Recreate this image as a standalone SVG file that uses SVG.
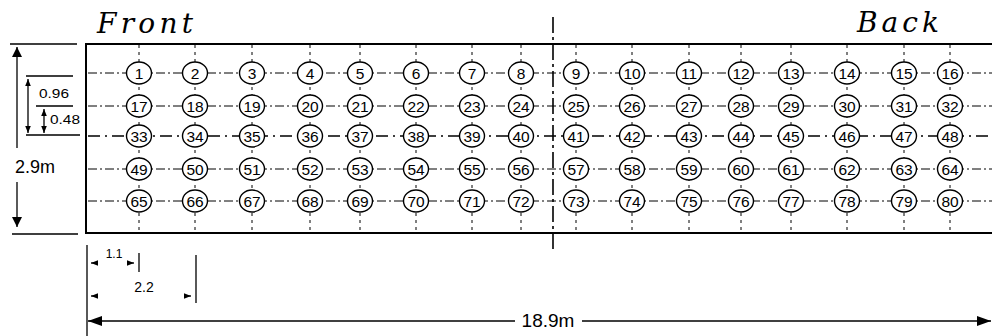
<svg xmlns="http://www.w3.org/2000/svg" width="992" height="336" viewBox="0 0 992 336">
<style>
.n ellipse{fill:#fff;stroke:#000;stroke-width:1.4}
.n text{font-family:"Liberation Sans",Arial,sans-serif;font-size:15.5px;text-anchor:middle;fill:#000}
.h{stroke:#000;stroke-width:1;stroke-dasharray:9 3 2 3;fill:none}
.h3{stroke:#000;stroke-width:1.6;stroke-dasharray:12 5 2 5;fill:none}
.v{stroke:#000;stroke-width:1;stroke-dasharray:3 4;fill:none}
.s{stroke:#000;stroke-width:1.3;fill:none}
.b{stroke:#000;stroke-width:2;fill:none}
.lbl{font-family:"Liberation Sans",Arial,sans-serif;fill:#000}
.ttl{font-family:"DejaVu Serif","Liberation Serif",serif;font-style:italic;font-size:28px;fill:#000}
</style>
<defs>
<marker id="ah" viewBox="0 0 10 10" refX="10" refY="5" markerWidth="10" markerHeight="10" markerUnits="userSpaceOnUse" orient="auto"><path d="M0,0 L10,5 L0,10 Z" fill="#000"/></marker>
<marker id="ahs" viewBox="0 0 10 10" refX="10" refY="5" markerWidth="7" markerHeight="7" markerUnits="userSpaceOnUse" orient="auto"><path d="M0,1 L10,5 L0,9 Z" fill="#000"/></marker>
<marker id="ahb" viewBox="0 0 14 10" refX="14" refY="5" markerWidth="14" markerHeight="11" markerUnits="userSpaceOnUse" orient="auto"><path d="M0,0 L14,5 L0,10 Z" fill="#000"/></marker>
</defs>

<text class="ttl" x="97" y="33" textLength="96" lengthAdjust="spacing">Front</text>
<text class="ttl" x="857" y="32" textLength="82" lengthAdjust="spacing">Back</text>

<g id="frame">
<path class="b" d="M86,44 H992 M86,233 H992 M86,43 V234"/>
<path class="s" d="M10,44 H77 M12,234 H78"/>
</g>

<g id="connectors">
<path class="h" d="M88,73 H992 M88,106 H992 M88,169 H992 M88,201 H992"/>
<path class="h3" d="M88,136 H992"/>
<path class="v" d="M139,45 V232 M195,45 V232 M252,45 V232 M310,45 V232 M360,45 V232 M416,45 V232 M472,45 V232 M521,45 V232 M576,45 V232 M632,45 V232 M689,45 V232 M741,45 V232 M791,45 V232 M847,45 V232 M904,45 V232 M950,45 V232"/>
<path d="M553,17 V250" stroke="#000" stroke-width="1.6" stroke-dasharray="16 4 3 4" fill="none"/>
</g>

<g id="dims">
<line class="s" x1="17" y1="148" x2="17" y2="47" marker-end="url(#ah)"/>
<line class="s" x1="17" y1="182" x2="17" y2="227" marker-end="url(#ah)"/>
<text class="lbl" x="35" y="173" font-size="18" text-anchor="middle">2.9m</text>
<path class="s" d="M26,76 H73 M36,106 H73 M26,135 H80"/>
<line class="s" x1="28" y1="105" x2="28" y2="79" marker-end="url(#ahs)"/>
<line class="s" x1="28" y1="105" x2="28" y2="133" marker-end="url(#ahs)"/>
<line class="s" x1="44" y1="120" x2="44" y2="109" marker-end="url(#ahs)"/>
<line class="s" x1="44" y1="120" x2="44" y2="133" marker-end="url(#ahs)"/>
<text class="lbl" x="39" y="98" font-size="13" textLength="30" lengthAdjust="spacingAndGlyphs">0.96</text>
<text class="lbl" x="50" y="124" font-size="13" textLength="30" lengthAdjust="spacingAndGlyphs">0.48</text>

<path class="s" d="M87,245 V336 M139,253 V272 M196,255 V303"/>
<line class="s" x1="97" y1="263" x2="91" y2="263" marker-end="url(#ahs)"/>
<line class="s" x1="128" y1="263" x2="134" y2="263" marker-end="url(#ahs)"/>
<text class="lbl" x="114" y="257.5" font-size="12" text-anchor="middle">1.1</text>
<line class="s" x1="98" y1="296" x2="91" y2="296" marker-end="url(#ahs)"/>
<line class="s" x1="184" y1="296" x2="191" y2="296" marker-end="url(#ahs)"/>
<text class="lbl" x="144" y="292" font-size="14" text-anchor="middle">2.2</text>
<line class="s" x1="515" y1="321" x2="88" y2="321" marker-end="url(#ahb)"/>
<line class="s" x1="582" y1="321" x2="991" y2="321" marker-end="url(#ahb)"/>
<text class="lbl" x="548" y="327" font-size="19" text-anchor="middle">18.9m</text>
</g>

<g id="n1" class="n"><ellipse cx="139" cy="73" rx="12.5" ry="11"/><text x="139" y="78.5">1</text></g>
<g id="n2" class="n"><ellipse cx="195" cy="73" rx="12.5" ry="11"/><text x="195" y="78.5">2</text></g>
<g id="n3" class="n"><ellipse cx="252" cy="73" rx="12.5" ry="11"/><text x="252" y="78.5">3</text></g>
<g id="n4" class="n"><ellipse cx="310" cy="73" rx="12.5" ry="11"/><text x="310" y="78.5">4</text></g>
<g id="n5" class="n"><ellipse cx="360" cy="73" rx="12.5" ry="11"/><text x="360" y="78.5">5</text></g>
<g id="n6" class="n"><ellipse cx="416" cy="73" rx="12.5" ry="11"/><text x="416" y="78.5">6</text></g>
<g id="n7" class="n"><ellipse cx="472" cy="73" rx="12.5" ry="11"/><text x="472" y="78.5">7</text></g>
<g id="n8" class="n"><ellipse cx="521" cy="73" rx="12.5" ry="11"/><text x="521" y="78.5">8</text></g>
<g id="n9" class="n"><ellipse cx="576" cy="73" rx="12.5" ry="11"/><text x="576" y="78.5">9</text></g>
<g id="n10" class="n"><ellipse cx="632" cy="73" rx="12.5" ry="11"/><text x="632" y="78.5">10</text></g>
<g id="n11" class="n"><ellipse cx="689" cy="73" rx="12.5" ry="11"/><text x="689" y="78.5">11</text></g>
<g id="n12" class="n"><ellipse cx="741" cy="73" rx="12.5" ry="11"/><text x="741" y="78.5">12</text></g>
<g id="n13" class="n"><ellipse cx="791" cy="73" rx="12.5" ry="11"/><text x="791" y="78.5">13</text></g>
<g id="n14" class="n"><ellipse cx="847" cy="73" rx="12.5" ry="11"/><text x="847" y="78.5">14</text></g>
<g id="n15" class="n"><ellipse cx="904" cy="73" rx="12.5" ry="11"/><text x="904" y="78.5">15</text></g>
<g id="n16" class="n"><ellipse cx="950" cy="73" rx="12.5" ry="11"/><text x="950" y="78.5">16</text></g>

<g id="n17" class="n"><ellipse cx="139" cy="106" rx="12.5" ry="11"/><text x="139" y="111.5">17</text></g>
<g id="n18" class="n"><ellipse cx="195" cy="106" rx="12.5" ry="11"/><text x="195" y="111.5">18</text></g>
<g id="n19" class="n"><ellipse cx="252" cy="106" rx="12.5" ry="11"/><text x="252" y="111.5">19</text></g>
<g id="n20" class="n"><ellipse cx="310" cy="106" rx="12.5" ry="11"/><text x="310" y="111.5">20</text></g>
<g id="n21" class="n"><ellipse cx="360" cy="106" rx="12.5" ry="11"/><text x="360" y="111.5">21</text></g>
<g id="n22" class="n"><ellipse cx="416" cy="106" rx="12.5" ry="11"/><text x="416" y="111.5">22</text></g>
<g id="n23" class="n"><ellipse cx="472" cy="106" rx="12.5" ry="11"/><text x="472" y="111.5">23</text></g>
<g id="n24" class="n"><ellipse cx="521" cy="106" rx="12.5" ry="11"/><text x="521" y="111.5">24</text></g>
<g id="n25" class="n"><ellipse cx="576" cy="106" rx="12.5" ry="11"/><text x="576" y="111.5">25</text></g>
<g id="n26" class="n"><ellipse cx="632" cy="106" rx="12.5" ry="11"/><text x="632" y="111.5">26</text></g>
<g id="n27" class="n"><ellipse cx="689" cy="106" rx="12.5" ry="11"/><text x="689" y="111.5">27</text></g>
<g id="n28" class="n"><ellipse cx="741" cy="106" rx="12.5" ry="11"/><text x="741" y="111.5">28</text></g>
<g id="n29" class="n"><ellipse cx="791" cy="106" rx="12.5" ry="11"/><text x="791" y="111.5">29</text></g>
<g id="n30" class="n"><ellipse cx="847" cy="106" rx="12.5" ry="11"/><text x="847" y="111.5">30</text></g>
<g id="n31" class="n"><ellipse cx="904" cy="106" rx="12.5" ry="11"/><text x="904" y="111.5">31</text></g>
<g id="n32" class="n"><ellipse cx="950" cy="106" rx="12.5" ry="11"/><text x="950" y="111.5">32</text></g>

<g id="n33" class="n"><ellipse cx="139" cy="136" rx="12.5" ry="11"/><text x="139" y="141.5">33</text></g>
<g id="n34" class="n"><ellipse cx="195" cy="136" rx="12.5" ry="11"/><text x="195" y="141.5">34</text></g>
<g id="n35" class="n"><ellipse cx="252" cy="136" rx="12.5" ry="11"/><text x="252" y="141.5">35</text></g>
<g id="n36" class="n"><ellipse cx="310" cy="136" rx="12.5" ry="11"/><text x="310" y="141.5">36</text></g>
<g id="n37" class="n"><ellipse cx="360" cy="136" rx="12.5" ry="11"/><text x="360" y="141.5">37</text></g>
<g id="n38" class="n"><ellipse cx="416" cy="136" rx="12.5" ry="11"/><text x="416" y="141.5">38</text></g>
<g id="n39" class="n"><ellipse cx="472" cy="136" rx="12.5" ry="11"/><text x="472" y="141.5">39</text></g>
<g id="n40" class="n"><ellipse cx="521" cy="136" rx="12.5" ry="11"/><text x="521" y="141.5">40</text></g>
<g id="n41" class="n"><ellipse cx="576" cy="136" rx="12.5" ry="11"/><text x="576" y="141.5">41</text></g>
<g id="n42" class="n"><ellipse cx="632" cy="136" rx="12.5" ry="11"/><text x="632" y="141.5">42</text></g>
<g id="n43" class="n"><ellipse cx="689" cy="136" rx="12.5" ry="11"/><text x="689" y="141.5">43</text></g>
<g id="n44" class="n"><ellipse cx="741" cy="136" rx="12.5" ry="11"/><text x="741" y="141.5">44</text></g>
<g id="n45" class="n"><ellipse cx="791" cy="136" rx="12.5" ry="11"/><text x="791" y="141.5">45</text></g>
<g id="n46" class="n"><ellipse cx="847" cy="136" rx="12.5" ry="11"/><text x="847" y="141.5">46</text></g>
<g id="n47" class="n"><ellipse cx="904" cy="136" rx="12.5" ry="11"/><text x="904" y="141.5">47</text></g>
<g id="n48" class="n"><ellipse cx="950" cy="136" rx="12.5" ry="11"/><text x="950" y="141.5">48</text></g>

<g id="n49" class="n"><ellipse cx="139" cy="169" rx="12.5" ry="11"/><text x="139" y="174.5">49</text></g>
<g id="n50" class="n"><ellipse cx="195" cy="169" rx="12.5" ry="11"/><text x="195" y="174.5">50</text></g>
<g id="n51" class="n"><ellipse cx="252" cy="169" rx="12.5" ry="11"/><text x="252" y="174.5">51</text></g>
<g id="n52" class="n"><ellipse cx="310" cy="169" rx="12.5" ry="11"/><text x="310" y="174.5">52</text></g>
<g id="n53" class="n"><ellipse cx="360" cy="169" rx="12.5" ry="11"/><text x="360" y="174.5">53</text></g>
<g id="n54" class="n"><ellipse cx="416" cy="169" rx="12.5" ry="11"/><text x="416" y="174.5">54</text></g>
<g id="n55" class="n"><ellipse cx="472" cy="169" rx="12.5" ry="11"/><text x="472" y="174.5">55</text></g>
<g id="n56" class="n"><ellipse cx="521" cy="169" rx="12.5" ry="11"/><text x="521" y="174.5">56</text></g>
<g id="n57" class="n"><ellipse cx="576" cy="169" rx="12.5" ry="11"/><text x="576" y="174.5">57</text></g>
<g id="n58" class="n"><ellipse cx="632" cy="169" rx="12.5" ry="11"/><text x="632" y="174.5">58</text></g>
<g id="n59" class="n"><ellipse cx="689" cy="169" rx="12.5" ry="11"/><text x="689" y="174.5">59</text></g>
<g id="n60" class="n"><ellipse cx="741" cy="169" rx="12.5" ry="11"/><text x="741" y="174.5">60</text></g>
<g id="n61" class="n"><ellipse cx="791" cy="169" rx="12.5" ry="11"/><text x="791" y="174.5">61</text></g>
<g id="n62" class="n"><ellipse cx="847" cy="169" rx="12.5" ry="11"/><text x="847" y="174.5">62</text></g>
<g id="n63" class="n"><ellipse cx="904" cy="169" rx="12.5" ry="11"/><text x="904" y="174.5">63</text></g>
<g id="n64" class="n"><ellipse cx="950" cy="169" rx="12.5" ry="11"/><text x="950" y="174.5">64</text></g>

<g id="n65" class="n"><ellipse cx="139" cy="201" rx="12.5" ry="11"/><text x="139" y="206.5">65</text></g>
<g id="n66" class="n"><ellipse cx="195" cy="201" rx="12.5" ry="11"/><text x="195" y="206.5">66</text></g>
<g id="n67" class="n"><ellipse cx="252" cy="201" rx="12.5" ry="11"/><text x="252" y="206.5">67</text></g>
<g id="n68" class="n"><ellipse cx="310" cy="201" rx="12.5" ry="11"/><text x="310" y="206.5">68</text></g>
<g id="n69" class="n"><ellipse cx="360" cy="201" rx="12.5" ry="11"/><text x="360" y="206.5">69</text></g>
<g id="n70" class="n"><ellipse cx="416" cy="201" rx="12.5" ry="11"/><text x="416" y="206.5">70</text></g>
<g id="n71" class="n"><ellipse cx="472" cy="201" rx="12.5" ry="11"/><text x="472" y="206.5">71</text></g>
<g id="n72" class="n"><ellipse cx="521" cy="201" rx="12.5" ry="11"/><text x="521" y="206.5">72</text></g>
<g id="n73" class="n"><ellipse cx="576" cy="201" rx="12.5" ry="11"/><text x="576" y="206.5">73</text></g>
<g id="n74" class="n"><ellipse cx="632" cy="201" rx="12.5" ry="11"/><text x="632" y="206.5">74</text></g>
<g id="n75" class="n"><ellipse cx="689" cy="201" rx="12.5" ry="11"/><text x="689" y="206.5">75</text></g>
<g id="n76" class="n"><ellipse cx="741" cy="201" rx="12.5" ry="11"/><text x="741" y="206.5">76</text></g>
<g id="n77" class="n"><ellipse cx="791" cy="201" rx="12.5" ry="11"/><text x="791" y="206.5">77</text></g>
<g id="n78" class="n"><ellipse cx="847" cy="201" rx="12.5" ry="11"/><text x="847" y="206.5">78</text></g>
<g id="n79" class="n"><ellipse cx="904" cy="201" rx="12.5" ry="11"/><text x="904" y="206.5">79</text></g>
<g id="n80" class="n"><ellipse cx="950" cy="201" rx="12.5" ry="11"/><text x="950" y="206.5">80</text></g>
</svg>
